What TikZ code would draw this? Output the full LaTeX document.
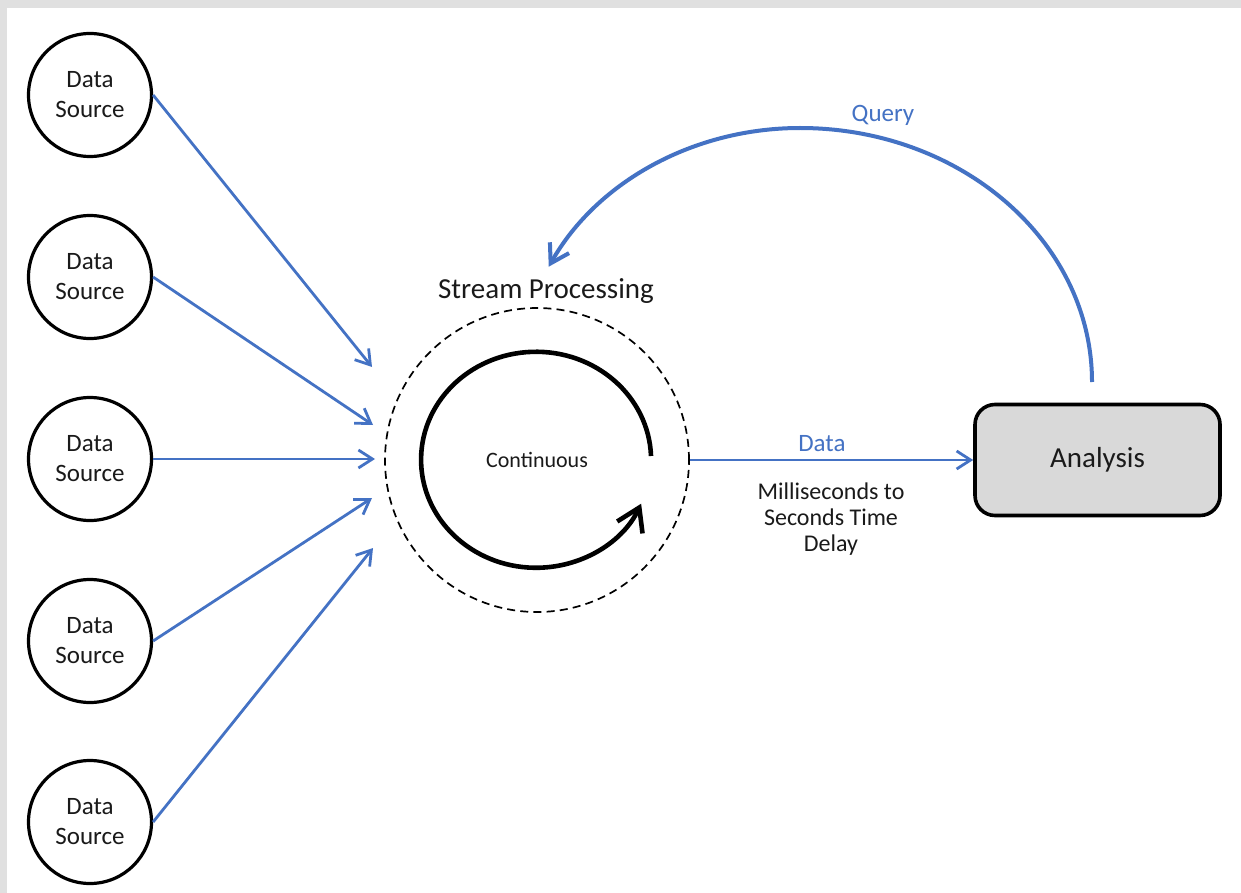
\documentclass[tikz,border=0pt]{standalone}
\usepackage{fontspec}
\setmainfont{Carlito}
\usetikzlibrary{arrows.meta}
\definecolor{ablue}{HTML}{4472C4}
\definecolor{bgray}{HTML}{E0E0E0}
\definecolor{boxgray}{HTML}{D9D9D9}
\definecolor{ink}{HTML}{1A1A1A}
\begin{document}
\begin{tikzpicture}[x=0.5pt,y=0.5pt,
  src/.style={circle,draw,line width=1.6pt,minimum size=61.5pt,inner sep=0pt,align=center,
    text=ink,font=\fontsize{12.5}{15}\selectfont},
  feed/.style={draw=ablue,line width=1.4pt,-{Straight Barb[length=7pt,width=9pt]}},
  query/.style={draw=ablue,line width=2pt,-{Straight Barb[length=9pt,width=11pt]}},
  bluetext/.style={text=ablue,font=\fontsize{12.5}{14}\selectfont},
]
\useasboundingbox (0,0) rectangle (1241,-893);
\fill[bgray] (0,0) rectangle (1241,-893);
\fill[white] (7,-8) rectangle (1241,-893);

% data sources
\node[src] (ds1) at (90,-95) {Data\\Source};
\node[src] (ds2) at (90,-277) {Data\\Source};
\node[src] (ds3) at (90,-459) {Data\\Source};
\node[src] (ds4) at (90,-641) {Data\\Source};
\node[src] (ds5) at (90,-822) {Data\\Source};

% stream processing
\node[circle,draw,dash pattern=on 4pt off 2.6pt,line width=0.85pt,minimum size=152pt,inner sep=0pt,
  text=ink,font=\fontsize{11}{12}\selectfont] (sp) at (537,-460) {Continuous};
\node[text=ink,font=\fontsize{14.5}{17}\selectfont] (title) at (546,-291) {Stream Processing};
\draw[line width=2.3pt,-{Straight Barb[length=11pt,width=14pt]}]
  ([shift={(114,4)}]sp.center) arc[start angle=2,end angle=336,x radius=57.5pt,y radius=54pt];

% feed end points
\coordinate (e1) at (372,-367);
\coordinate (e2) at (373,-425);
\coordinate (e3) at (375,-459);
\coordinate (e4) at (372,-498);
\coordinate (e5) at (373,-548);
\draw[feed] (ds1.east) -- (e1);
\draw[feed] (ds2.east) -- (e2);
\draw[feed] (ds3.east) -- (e3);
\draw[feed] (ds4.east) -- (e4);
\draw[feed] (ds5.east) -- (e5);

% analysis
\node[draw,line width=1.8pt,fill=boxgray,rounded corners=10pt,minimum width=122.5pt,minimum height=55.5pt,
  text=ink,font=\fontsize{14.5}{17}\selectfont] (an) at (1097.5,-460) {Analysis};
\draw[feed] (sp.east) -- node[pos=0.466,above=0pt,bluetext] (datalbl) {Data} (an.west);
\node[align=center,text=ink,font=\fontsize{12}{13}\selectfont] (delay) at (831,-519) {Milliseconds to\\Seconds Time\\Delay};

% query
\coordinate (qs) at (1092,-382);
\draw[query] (qs) arc[start angle=0,end angle=90,x radius=146pt,y radius=127pt]
  arc[start angle=90,end angle=153,x radius=141pt,y radius=127pt];
\node[bluetext] (qlbl) at (883,-115) {Query};
\end{tikzpicture}
\end{document}
